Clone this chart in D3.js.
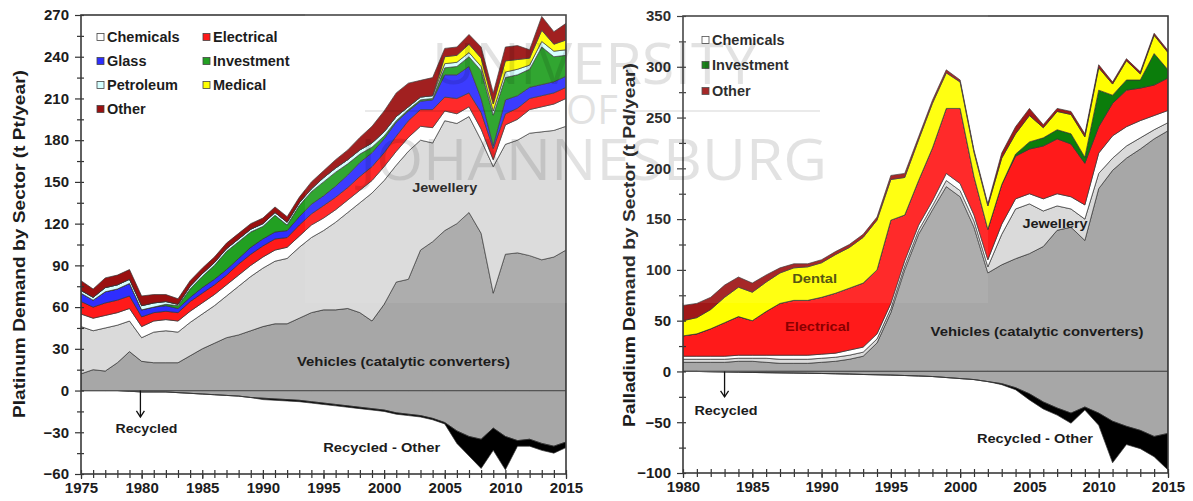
<!DOCTYPE html>
<html lang="en">
<head>
<meta charset="UTF-8">
<title>Platinum and palladium demand by sector</title>
<script src="https://cdn.jsdelivr.net/npm/d3@7"></script>
<style>
  body { margin: 0; background: #fff; }
  svg text { font-family: "Liberation Sans", Arial, sans-serif; font-weight: bold; fill: #1c1c1c; }
  .tick text { font-size: 15px; }
  .tick line { stroke: #333; }
  .wm { font-family: "Open Sans", "DejaVu Sans", sans-serif; font-weight: normal; fill: #000; opacity: 0.11; }
</style>
</head>
<body>
<svg id="chart" width="1193" height="501"></svg>
<script>
// ---- Platinum (t Pt/year), 1975-2015, thickness of each sector ----
const ptYears = d3.range(1975, 2016);
const ptVehicles   = [12,15,14,20,28,21,20,20,20,25, 30,34,38,40,43,46,48,48,52,56, 58,58,59,56,50,62,78,80,101,107, 115,120,128,113,70,98,99,97,94,96,101];
const ptJewellery  = [34,28,31,27,22,17,22,23,22,24, 25,27,30,35,39,42,45,47,51,54, 57,63,69,79,92,89,84,92,79,71, 79,72,69,67,91,79,81,88,92,91,89];
const ptChemicals  = [9,9,9,9,9,8,8,8,8,8, 8,8,8,8,8,8,8,8,8,9, 9,9,9,9,9,10,10,10,10,11, 7,7,7,8,5,14,15,17,18,19,20];
const ptElectrical = [9,8,9,9,9,7,6,6,6,7, 7,7,7,8,8,8,8,7,8,8, 9,9,9,10,10,10,11,12,12,13, 10,11,10,12,8,8,8,8,8,8,8];
const ptGlass      = [6,5,8,8,9,5,4,4,3,3, 4,4,4,4,5,5,5,5,6,7, 7,8,9,10,10,10,10,7,6,7, 16,17,19,10,2,10,9,8,8,8,8];
const ptInvestment = [0,0,0,0,0,0,0,1,2,6, 8,10,13,12,11,9,12,4,8,9, 10,10,8,6,4,2,1,1,1,1, 5,6,7,20,22,16,15,13,27,18,15];
const ptPetroleum  = [2,2,3,3,3,3,3,2,1,2, 2,2,2,2,2,2,2,2,2,2, 3,3,3,3,3,3,3,2,2,2, 3,3,3,3,3,4,4,3,4,4,4];
const ptMedical    = [0,0,0,0,0,0,0,0,0,0, 0,0,0,0,0,0,0,0,0,0, 0,0,0,0,0,0,0,0,0,0, 5,5,6,6,5,8,7,5,8,5,7];
const ptOther      = [7,6,7,7,7,7,6,5,4,4, 4,4,4,4,4,4,4,4,4,5, 5,6,7,9,12,15,17,17,12,13, 6,6,7,8,8,10,10,6,10,9,12];
const ptRecycled      = [0,0,0,0,0.5,1,1,1,1.5,2, 2.5,3,3.5,4,5,5.5,6,6.5,7,8, 9,10,11,12,13,14,16,17,18,20, 23,29,33,35,27,33,36,35,38,40,37];
const ptRecycledOther = [0,0,0,0,0,0,0,0,0,0, 0,0,0,0,0,1,1,1,1,1, 1,1,1,1,1,1,1,1,1,1, 1,9,14,21,16,24,4,5,5,5,4];

// ---- Palladium (t Pd/year), 1980-2015 ----
const pdYears = d3.range(1980, 2016);
const pdVehicles   = [9,9,9,9,10,10,9,8,8,8, 9,10,12,15,28,58,100,135,159,182, 172,142,97,105,111,116,123,139,142,129, 180,198,210,219,229,237];
const pdJewellery  = [3,3,3,3,3,3,4,4,4,4, 4,4,4,4,4,4,4,4,4,6, 6,6,6,30,49,49,35,24,18,21, 15,12,12,11,9,8];
const pdChemicals  = [3,3,3,3,3,3,3,4,4,4, 4,4,5,5,5,5,5,5,5,7, 7,6,7,10,10,10,12,12,12,14, 20,22,19,17,14,12];
const pdElectrical = [20,22,27,33,38,34,43,51,54,54, 56,59,61,63,63,82,45,44,52,64, 74,38,30,39,42,44,52,54,52,41, 26,32,36,32,30,32];
const pdInvestment = [0,0,0,0,0,0,0,0,0,0, 0,0,0,0,0,0,0,0,0,0, 0,0,0,0,2,7,8,9,10,6, 36,8,10,8,31,8];
const pdDental     = [15,16,19,25,29,28,29,30,32,33, 34,38,40,45,49,40,37,40,44,35, 26,24,23,26,20,26,10,18,19,20, 22,11,19,6,18,17];
const pdOther      = [15,14,12,12,10,9,7,5,4,3, 3,3,3,3,3,4,4,3,3,3, 2,2,2,5,7,7,3,3,3,3, 3,2,2,2,2,2];
const pdRecycled      = [0,0,0.3,0.5,0.7,1,1.2,1.4,1.6,1.8, 2,2.3,2.6,3,3.3,3.6,4,4.5,5,6, 7,8,10,12,16,22,30,36,41,35, 41,49,54,58,64,61];
const pdRecycledOther = [0,0,0,0,0,0,0,0,0,0, 0,0,0,0,0,0,0,0,0,0, 0,0,0,1,2,6,7,7,10,3, 12,41,18,18,20,36];

// ---- ticks ----
const ptYTicks = [-60, -30, 0, 30, 60, 90, 120, 150, 180, 210, 240, 270];
const ptYMinor = [-45, -15, 15, 45, 75, 105, 135, 165, 195, 225, 255];
const ptXTicks = [1975, 1980, 1985, 1990, 1995, 2000, 2005, 2010, 2015];
const pdYTicks = [-100, -50, 0, 50, 100, 150, 200, 250, 300, 350];
const pdYMinor = [-75, -25, 25, 75, 125, 175, 225, 275, 325];
const pdXTicks = [1980, 1985, 1990, 1995, 2000, 2005, 2010, 2015];

const GREY = '#a7a7a7', LIGHT = '#dadada', RED = '#ff1a1a', YELLOW = '#ffff00';

const svg = d3.select('#chart');

function drawPanel(p) {
    const x = d3.scaleLinear().domain(d3.extent(p.years)).range([p.x0, p.x1]);
    const y = d3.scaleLinear().domain(p.yDomain).range([p.y1, p.y0]);

    // rows for the stack
    const rows = p.years.map((yr, i) => {
        const r = { year: yr };
        p.layers.forEach(l => { r[l.key] = l.values[i]; });
        return r;
    });
    const up = p.layers.filter(l => !l.below);
    const down = p.layers.filter(l => l.below);
    const upSeries = d3.stack().keys(up.map(l => l.key))(rows);
    const downSeries = d3.stack().keys(down.map(l => l.key)).value((d, k) => -d[k])(rows);
    const colorOf = Object.fromEntries(p.layers.map(l => [l.key, l.color]));

    const area = d3.area()
        .x(d => x(d.data.year))
        .y0(d => y(d[0]))
        .y1(d => y(d[1]));

    svg.append('clipPath').attr('id', 'clip-' + p.id)
        .append('rect')
        .attr('x', p.x0).attr('y', p.y0)
        .attr('width', p.x1 - p.x0).attr('height', p.y1 - p.y0);

    const plot = svg.append('g').attr('clip-path', `url(#clip-${p.id})`);

    plot.selectAll('path.up')
        .data(upSeries)
        .join('path')
        .attr('class', 'up')
        .attr('d', area)
        .attr('fill', s => colorOf[s.key])
        .attr('stroke', '#333')
        .attr('stroke-width', 0.7)
        .attr('stroke-linejoin', 'round');

    plot.selectAll('path.down')
        .data(downSeries)
        .join('path')
        .attr('class', 'down')
        .attr('d', area)
        .attr('fill', s => colorOf[s.key])
        .attr('stroke', '#333')
        .attr('stroke-width', 0.7)
        .attr('stroke-linejoin', 'round');

    // zero line
    plot.append('line')
        .attr('x1', p.x0).attr('x2', p.x1)
        .attr('y1', y(0)).attr('y2', y(0))
        .attr('stroke', '#555').attr('stroke-width', 1.2);

    // axes: major ticks with labels, minor ticks, inner ticks
    const yMajor = svg.append('g')
        .attr('transform', `translate(${p.x0},0)`)
        .call(d3.axisLeft(y).tickValues(p.yTicks).tickSize(6).tickPadding(6).tickFormat(d3.format('d')));
    const yMinor = svg.append('g')
        .attr('transform', `translate(${p.x0},0)`)
        .call(d3.axisLeft(y).tickValues(p.yMinor).tickSize(4).tickFormat(''));
    const yIn = svg.append('g')
        .attr('transform', `translate(${p.x0},0)`)
        .call(d3.axisRight(y).tickValues(p.yTicks.concat(p.yMinor)).tickSize(3).tickFormat(''));

    const xMajor = svg.append('g')
        .attr('transform', `translate(0,${p.y1})`)
        .call(d3.axisBottom(x).tickValues(p.xTicks).tickSize(5).tickPadding(3).tickFormat(d3.format('d')));
    const xMinor = svg.append('g')
        .attr('transform', `translate(0,${p.y1})`)
        .call(d3.axisBottom(x).tickValues(p.years).tickSize(4).tickFormat(''));
    const xIn = svg.append('g')
        .attr('transform', `translate(0,${p.y1})`)
        .call(d3.axisTop(x).tickValues(p.years).tickSize(4).tickFormat(''));

    [yMajor, yMinor, yIn, xMajor, xMinor, xIn].forEach(a => {
        a.attr('font-family', null).attr('font-size', null);
        a.select('.domain').remove();
        a.selectAll('.tick line').attr('stroke-width', 1.2);
    });

    // frame
    svg.append('rect')
        .attr('x', p.x0).attr('y', p.y0)
        .attr('width', p.x1 - p.x0).attr('height', p.y1 - p.y0)
        .attr('fill', 'none').attr('stroke', '#3a3a3a').attr('stroke-width', 1.6);

    // axis title
    svg.append('text')
        .attr('transform', `translate(${p.titleX},${p.titleY}) rotate(-90)`)
        .attr('text-anchor', 'middle')
        .attr('dy', '0.35em')
        .attr('textLength', p.titleLen)
        .attr('lengthAdjust', 'spacingAndGlyphs')
        .style('font-size', '16px')
        .text(p.title);

    // labels inside the plot
    p.labels.forEach(l => {
        svg.append('text')
            .attr('x', x(l.year)).attr('y', y(l.value))
            .attr('text-anchor', 'middle')
            .attr('textLength', l.len)
            .attr('lengthAdjust', 'spacingAndGlyphs')
            .style('font-size', '13px')
            .style('fill', l.color || '#1c1c1c')
            .text(l.text);
    });

    // arrow for "Recycled"
    const ax = x(p.arrow.year), ay0 = y(0), ay1 = y(p.arrow.value);
    svg.append('line')
        .attr('x1', ax).attr('x2', ax).attr('y1', ay0).attr('y2', ay1)
        .attr('stroke', '#111').attr('stroke-width', 1.3);
    svg.append('path')
        .attr('d', `M${ax - 4},${ay1 - 6}L${ax},${ay1}L${ax + 4},${ay1 - 6}`)
        .attr('fill', 'none').attr('stroke', '#111').attr('stroke-width', 1.3);

    // legend
    p.legend.forEach(item => {
        svg.append('rect')
            .attr('x', item.x).attr('y', item.y - 3.5)
            .attr('width', 7).attr('height', 7)
            .attr('fill', item.color)
            .attr('stroke', '#444').attr('stroke-width', 0.8);
        svg.append('text')
            .attr('x', item.x + 10).attr('y', item.y)
            .attr('dy', '0.36em')
            .style('font-size', '14.5px')
            .text(item.text);
    });
}

drawPanel({
    id: 'pt',
    years: ptYears,
    x0: 81, x1: 566, y0: 15, y1: 474,
    yDomain: [-60, 270],
    yTicks: ptYTicks, yMinor: ptYMinor, xTicks: ptXTicks,
    layers: [
        { key: 'vehicles', values: ptVehicles, color: GREY },
        { key: 'jewellery', values: ptJewellery, color: LIGHT },
        { key: 'chemicals', values: ptChemicals, color: '#ffffff' },
        { key: 'electrical', values: ptElectrical, color: RED },
        { key: 'glass', values: ptGlass, color: '#2e2eff' },
        { key: 'investment', values: ptInvestment, color: '#22a022' },
        { key: 'petroleum', values: ptPetroleum, color: '#d4ffff' },
        { key: 'medical', values: ptMedical, color: YELLOW },
        { key: 'other', values: ptOther, color: '#9a1010' },
        { key: 'recycled', values: ptRecycled, color: GREY, below: true },
        { key: 'recycledOther', values: ptRecycledOther, color: '#000000', below: true }
    ],
    title: 'Platinum Demand by Sector (t Pt/year)',
    titleX: 19, titleY: 244, titleLen: 348,
    labels: [
        { text: 'Jewellery', year: 2005.0, value: 143, len: 65 },
        { text: 'Vehicles (catalytic converters)', year: 2001.6, value: 17.5, len: 213 },
        { text: 'Recycled', year: 1980.4, value: -30.5, len: 62 },
        { text: 'Recycled - Other', year: 1999.8, value: -44, len: 117 }
    ],
    arrow: { year: 1979.9, value: -19 },
    legend: [
        { text: 'Chemicals', color: '#ffffff', x: 97, y: 37 },
        { text: 'Glass', color: '#2e2eff', x: 97, y: 61 },
        { text: 'Petroleum', color: '#d4ffff', x: 97, y: 85 },
        { text: 'Other', color: '#9a1010', x: 97, y: 109 },
        { text: 'Electrical', color: RED, x: 203, y: 37 },
        { text: 'Investment', color: '#22a022', x: 203, y: 61 },
        { text: 'Medical', color: YELLOW, x: 203, y: 85 }
    ]
});

drawPanel({
    id: 'pd',
    years: pdYears,
    x0: 683, x1: 1168, y0: 16, y1: 473,
    yDomain: [-100, 350],
    yTicks: pdYTicks, yMinor: pdYMinor, xTicks: pdXTicks,
    layers: [
        { key: 'vehicles', values: pdVehicles, color: GREY },
        { key: 'jewellery', values: pdJewellery, color: LIGHT },
        { key: 'chemicals', values: pdChemicals, color: '#ffffff' },
        { key: 'electrical', values: pdElectrical, color: RED },
        { key: 'investment', values: pdInvestment, color: '#0b7d0b' },
        { key: 'dental', values: pdDental, color: YELLOW },
        { key: 'other', values: pdOther, color: '#a01818' },
        { key: 'recycled', values: pdRecycled, color: GREY, below: true },
        { key: 'recycledOther', values: pdRecycledOther, color: '#000000', below: true }
    ],
    title: 'Palladium Demand by Sector (t Pd/year)',
    titleX: 629, titleY: 245, titleLen: 364,
    labels: [
        { text: 'Dental', year: 1989.5, value: 87, len: 45, color: '#4a4a00' },
        { text: 'Electrical', year: 1989.7, value: 40, len: 65, color: '#8a0000' },
        { text: 'Jewellery', year: 2006.85, value: 141, len: 65 },
        { text: 'Vehicles (catalytic converters)', year: 2005.55, value: 35, len: 213 },
        { text: 'Recycled', year: 1983.1, value: -43, len: 63 },
        { text: 'Recycled - Other', year: 2005.4, value: -70.5, len: 116 }
    ],
    arrow: { year: 1983.0, value: -25 },
    legend: [
        { text: 'Chemicals', color: '#ffffff', x: 702, y: 40 },
        { text: 'Investment', color: '#0b7d0b', x: 702, y: 65 },
        { text: 'Other', color: '#a01818', x: 702, y: 91 }
    ]
});

// faint university watermark lying over both panels
svg.append('rect')
    .attr('x', 305).attr('y', 0).attr('width', 683).attr('height', 303)
    .attr('fill', '#fff').attr('opacity', 0.07);
svg.append('text').attr('class', 'wm')
    .attr('x', 432).attr('y', 84)
    .attr('textLength', 325).attr('lengthAdjust', 'spacingAndGlyphs')
    .style('font-size', '56px').text('UNIVERSITY');
svg.append('text').attr('class', 'wm')
    .attr('x', 592).attr('y', 124).attr('text-anchor', 'middle')
    .style('font-size', '40px').text('OF');
svg.append('line').attr('x1', 365).attr('x2', 560).attr('y1', 111).attr('y2', 111)
    .attr('stroke', '#000').attr('stroke-width', 2).attr('opacity', 0.08);
svg.append('line').attr('x1', 626).attr('x2', 820).attr('y1', 111).attr('y2', 111)
    .attr('stroke', '#000').attr('stroke-width', 2).attr('opacity', 0.08);
svg.append('text').attr('class', 'wm')
    .attr('x', 360).attr('y', 180)
    .attr('textLength', 467).attr('lengthAdjust', 'spacingAndGlyphs')
    .style('font-size', '56px').text('JOHANNESBURG');
</script>
</body>
</html>
